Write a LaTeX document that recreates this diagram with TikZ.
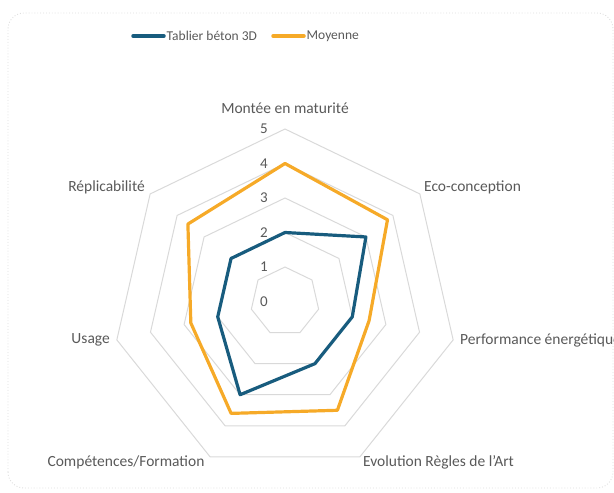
\documentclass[tikz,border=0pt]{standalone}
\usepackage{fontspec}
\setmainfont{Carlito}
\definecolor{serA}{RGB}{24,92,126}
\definecolor{serB}{RGB}{246,170,40}
\definecolor{gridc}{RGB}{217,217,217}
\definecolor{framec}{RGB}{222,222,222}
\definecolor{txt}{RGB}{89,89,89}
\newcommand{\unitR}{34.5}
\begin{document}
\begin{tikzpicture}[x=1pt,y=1pt,
  ring/.style={draw=gridc, line width=1pt},
  series/.style={line width=3.2pt, line join=round},
  lbl/.style={text=txt, font=\fontsize{15.5}{18}\selectfont, inner sep=0pt},
  tick/.style={text=txt, font=\fontsize{15}{18}\selectfont, inner sep=0pt},
  leg/.style={text=txt, font=\fontsize{13.5}{16}\selectfont, inner sep=0pt, anchor=west},
  legline/.style={line width=3.5pt, line cap=round}]
\useasboundingbox (0,0) rectangle (614,493);
\clip (0,0) rectangle (614,493);
\draw[framec, dotted, rounded corners=16pt, line width=0.9pt] (8,5) rectangle (613,480);
% legend
\coordinate (la1) at (133,457); \coordinate (la2) at (164,457);
\coordinate (lb1) at (273,457); \coordinate (lb2) at (304,457);
\draw[legline, serA] (la1) -- (la2);
\node[leg] (lta) at (166.5,457) {Tablier béton 3D};
\draw[legline, serB] (lb1) -- (lb2);
\node[leg] (ltb) at (306.5,457) {Moyenne};
% radar
\begin{scope}[shift={(285,191.5)}]
  \foreach \k in {1,...,5}{
    \draw[ring] (90:\unitR*\k) \foreach \i in {1,...,6}{ -- (90-\i*360/7:\unitR*\k)} -- cycle;
  }
  \foreach \k in {0,...,5}{
    \node[tick] (t\k) at (-21,\unitR*\k) {\k};
  }
  \draw[series, serB] (90:\unitR*4) -- (90-360/7:\unitR*3.8) -- (90-2*360/7:\unitR*2.5)
     -- (90-3*360/7:\unitR*3.5) -- (90-4*360/7:\unitR*3.6) -- (90-5*360/7:\unitR*2.8)
     -- (90-6*360/7:\unitR*3.6) -- cycle;
  \draw[series, serA] (90:\unitR*2) -- (90-360/7:\unitR*3) -- (90-2*360/7:\unitR*2)
     -- (90-3*360/7:\unitR*2) -- (90-4*360/7:\unitR*3) -- (90-5*360/7:\unitR*2)
     -- (90-6*360/7:\unitR*2) -- cycle;
\end{scope}
% axis labels
\node[lbl] (a1) at (285,385) {Montée en maturité};
\node[lbl, anchor=west] (a2) at (424,306) {Eco-conception};
\node[lbl, anchor=west] (a3) at (460,152.5) {Performance énergétique};
\node[lbl] (a4) at (438.5,31) {Evolution Règles de l'Art};
\node[lbl] (a5) at (126,31) {Compétences/Formation};
\node[lbl, anchor=east] (a6) at (110,153) {Usage};
\node[lbl, anchor=east] (a7) at (145,306) {Réplicabilité};
\end{tikzpicture}
\end{document}
